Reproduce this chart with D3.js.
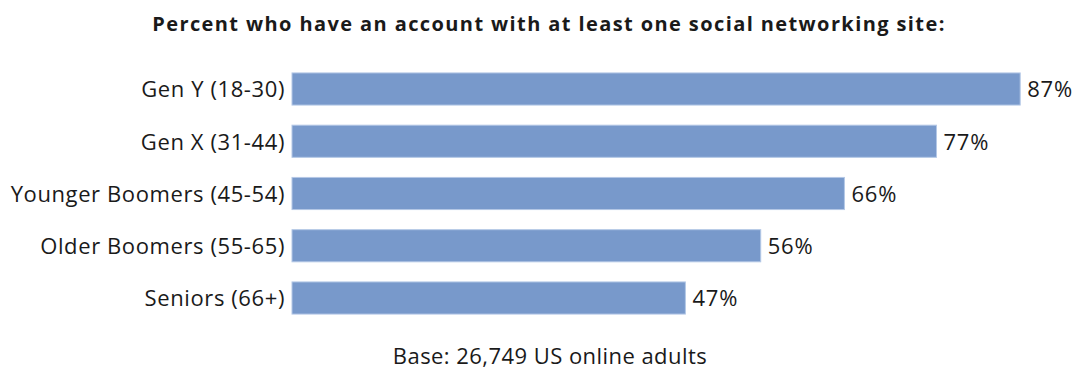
<!DOCTYPE html>
<html lang="en">
<script src="https://d3js.org/d3.v7.min.js"></script>
<head>
  <meta charset="UTF-8">
  <title>social networking by generation</title>
  <style>
    body { margin: 0; background: white; }
    text { font-family: "Open Sans", "Noto Sans", sans-serif; fill: #1a1a1a; }
    .bar { fill: #7899cb; stroke: #b4c8e6; stroke-width: 1px; }
    .title { font-weight: bold; font-size: 20px; letter-spacing: 1.4px; }
    .cat { font-size: 22px; letter-spacing: 0.6px; }
    .val { font-size: 22px; letter-spacing: 0.8px; }
    .note { font-size: 22px; letter-spacing: 0.45px; }
  </style>
</head>
<body>
  <svg width="1078" height="369"></svg>
  <script>
    var categories = ["Gen Y (18-30)", "Gen X (31-44)", "Younger Boomers (45-54)", "Older Boomers (55-65)", "Seniors (66+)"];
    var values = [87, 77, 66, 56, 47];
    var titleText = "Percent who have an account with at least one social networking site:";
    var noteText = "Base: 26,749 US online adults";

    var svg = d3.select("svg");

    var x = d3.scaleLinear().domain([0, 100]).range([292, 1129]);
    var y = d3.scaleBand().domain(categories).range([63, 324]).paddingInner(0.385).paddingOuter(0.19);

    svg.append("text")
      .attr("class", "title")
      .attr("x", 549)
      .attr("y", 31)
      .attr("text-anchor", "middle")
      .text(titleText);

    svg.selectAll(".bar")
      .data(values)
      .enter().append("rect")
      .attr("class", "bar")
      .attr("x", x(0))
      .attr("y", function (d, i) { return y(categories[i]); })
      .attr("width", function (d) { return x(d) - x(0); })
      .attr("height", y.bandwidth());

    // category labels, right aligned against the bars
    svg.selectAll(".cat")
      .data(categories)
      .enter().append("text")
      .attr("class", "cat")
      .attr("x", 285)
      .attr("y", function (d) { return y(d) + y.bandwidth() / 2; })
      .attr("dy", "0.38em")
      .attr("text-anchor", "end")
      .text(function (d) { return d; });

    svg.selectAll(".val")
      .data(values)
      .enter().append("text")
      .attr("class", "val")
      .attr("x", function (d) { return x(d) + 7; })
      .attr("y", function (d, i) { return y(categories[i]) + y.bandwidth() / 2; })
      .attr("dy", "0.38em")
      .text(function (d) { return d + "%"; });

    svg.append("text")
      .attr("class", "note")
      .attr("x", 550)
      .attr("y", 364)
      .attr("text-anchor", "middle")
      .text(noteText);
  </script>
</body>
</html>
